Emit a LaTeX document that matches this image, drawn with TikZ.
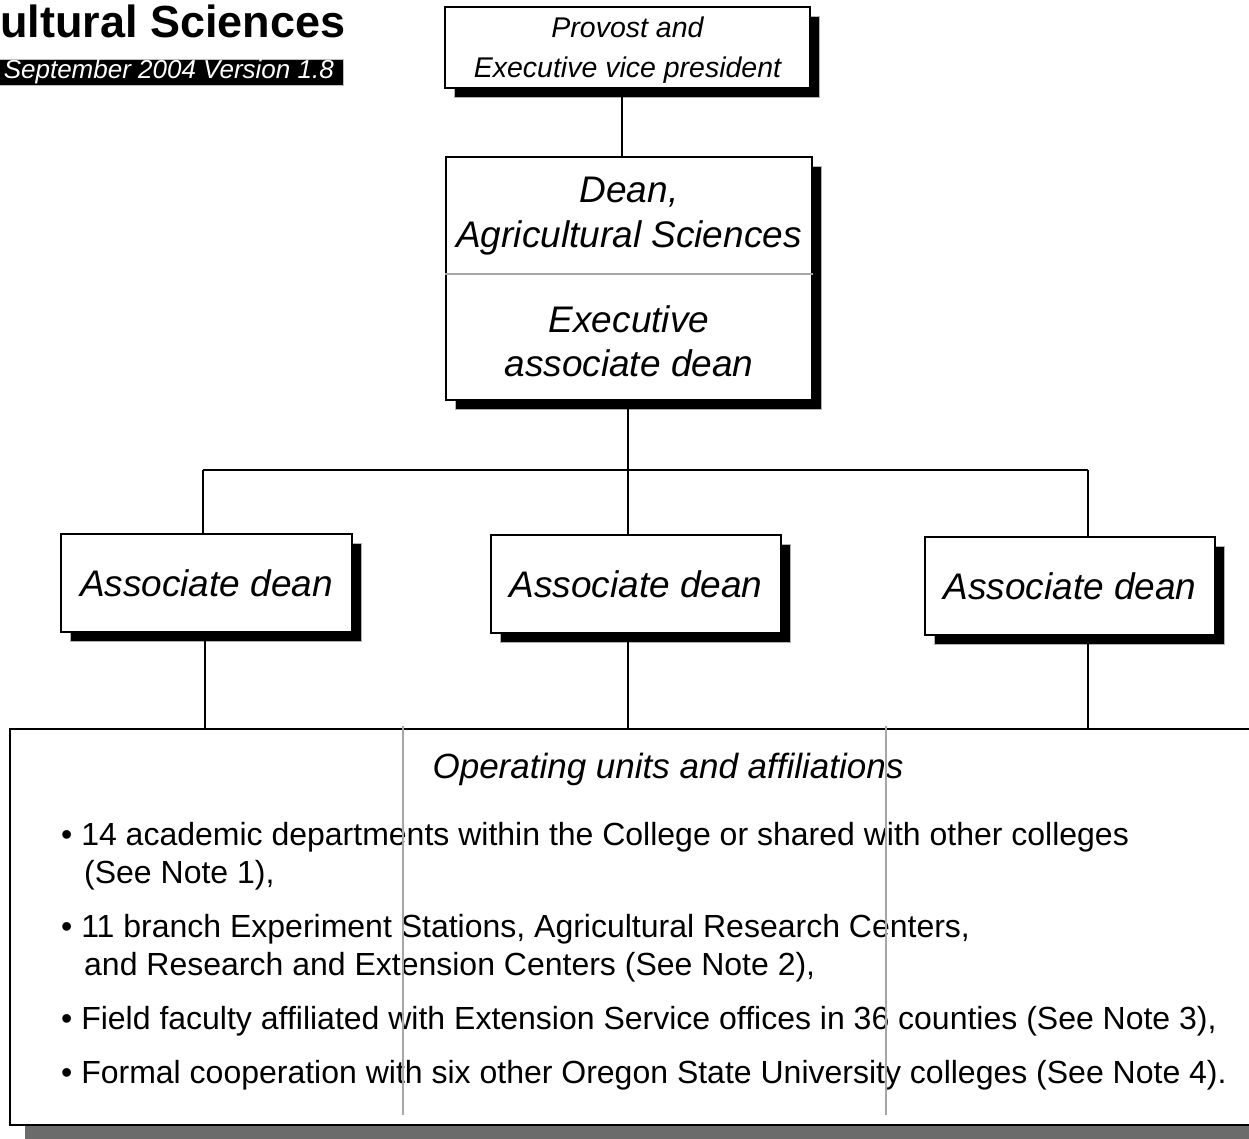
\documentclass[tikz,border=0pt]{standalone}
\usepackage{fontspec}
\setmainfont{Liberation Sans}
\usetikzlibrary{shadows}
\tikzset{
  post/.style={draw, line width=1.8pt, fill=white, inner sep=0pt, align=center,
    drop shadow={shadow xshift=9pt, shadow yshift=-9pt, fill=black, draw=gray!60, line width=1pt, opacity=1}},
  txt/.style={inner sep=0pt, align=center},
  item/.style={anchor=base west, inner sep=0pt, font=\fontsize{32}{40}\selectfont},
  guide/.style={draw=gray!70, line width=1.5pt},
  wire/.style={line width=1.8pt}
}
\begin{document}
\begin{tikzpicture}[x=1pt,y=-1pt]
\useasboundingbox (0,0) rectangle (1249,1138);
\clip (0,0) rectangle (1249,1138);
\fill[white] (0,0) rectangle (1249,1138);
% heading
\node[anchor=base west, inner sep=0pt, font=\bfseries\fontsize{45}{50}\selectfont] (title) at (0,37) {ultural Sciences};
\node[anchor=east, fill=black, draw=gray!50, text=white, inner xsep=9pt, inner ysep=0pt, minimum height=26pt,
  font=\itshape\fontsize{26}{30}\selectfont] (version) at (343,72) {September 2004 Version 1.8};
% top of the chart
\node[post, minimum width=365pt, minimum height=81pt] (provost) at (627.5,47.5) {};
\node[txt, font=\itshape\fontsize{28.5}{40}\selectfont] (provosttxt) at (627.5,50) {Provost and\\Executive vice president};
\node[post, minimum width=366pt, minimum height=243pt] (deanbox) at (629,278.5) {};
\node[txt, font=\itshape\fontsize{37}{45}\selectfont] (dean) at (629,216) {Dean,\\Agricultural Sciences};
\node[txt, font=\itshape\fontsize{37}{44}\selectfont] (execdean) at (629,341) {Executive\\associate dean};
\draw[gray!70, line width=1.5pt] (deanbox.west |- 0,274) -- (deanbox.east |- 0,274);
\draw[wire] (provost.south -| 622,0) -- (deanbox.north -| 622,0);
% associate deans
\node[post, minimum width=291pt, minimum height=98pt, font=\itshape\fontsize{37}{44}\selectfont] (assocl) at (206.5,583) {Associate dean};
\node[post, minimum width=290pt, minimum height=98pt, font=\itshape\fontsize{37}{44}\selectfont] (assocm) at (636,584) {Associate dean};
\node[post, minimum width=290pt, minimum height=98pt, font=\itshape\fontsize{37}{44}\selectfont] (assocr) at (1070,586) {Associate dean};
\coordinate (bus) at (628,470);
\draw[wire] (deanbox.south -| bus) -- (bus);
\draw[wire] (203,470) -- (1088,470);
\draw[wire] (203,470) -- (203,533);
\draw[wire] (bus) -- (assocm.north -| bus);
\draw[wire] (1088,470) -- (assocr.north -| 1088,0);
% operating units
\node[draw, line width=1.8pt, fill=white, minimum width=1260pt, minimum height=396pt,
  drop shadow={shadow xshift=15pt, shadow yshift=-15pt, fill=black!58, opacity=1}] (units) at (640,927) {};
\draw[wire] (assocl.south -| 205,0) -- (units.north -| 205,0);
\draw[wire] (assocm.south -| bus) -- (units.north -| bus);
\draw[wire] (assocr.south -| 1088,0) -- (units.north -| 1088,0);
\node[anchor=base, inner sep=0pt, font=\itshape\fontsize{35}{40}\selectfont] (unitshead) at (668,778) {Operating units and affiliations};
\node[item] (itema) at (61,845) {• 14 academic departments within the College or shared with other colleges};
\node[item] (itemab) at (84,883) {(See Note 1),};
\node[item] (itemb) at (61,937) {• 11 branch Experiment Stations, Agricultural Research Centers,};
\node[item] (itembb) at (84,975) {and Research and Extension Centers (See Note 2),};
\node[item] (itemc) at (61,1029) {• Field faculty affiliated with Extension Service offices in 36 counties (See Note 3),};
\node[item] (itemd) at (61,1083) {• Formal cooperation with six other Oregon State University colleges (See Note 4).};
\draw[guide] (403,726) -- (403,1115);
\draw[guide] (886,726) -- (886,1115);
\end{tikzpicture}
\end{document}
